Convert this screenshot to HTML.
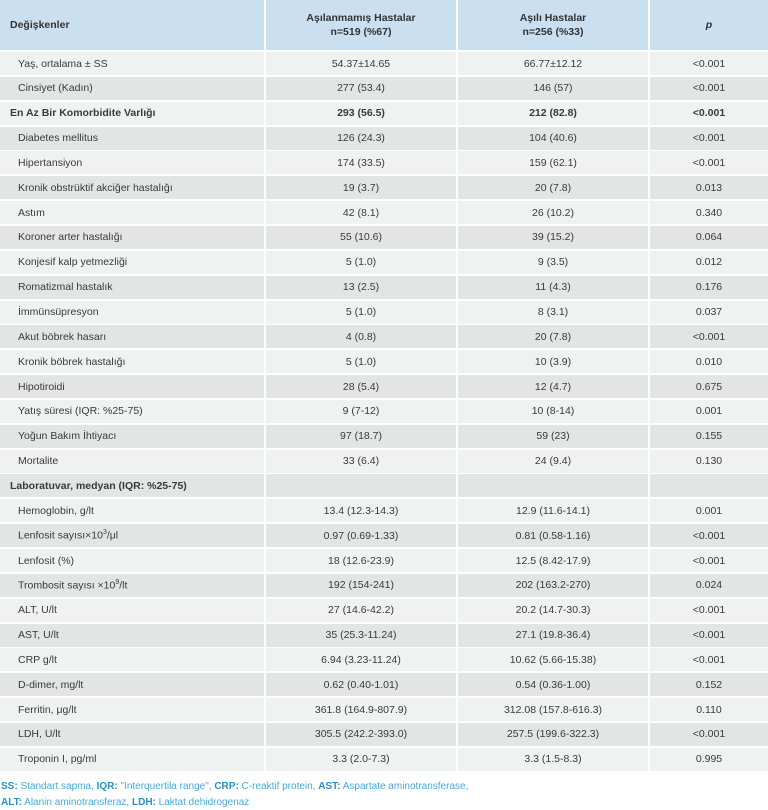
<!DOCTYPE html>
<html><head><meta charset="utf-8"><style>
body{margin:0;width:768px;height:810px;background:#fff;font-family:"Liberation Sans",sans-serif;color:#3a3a3a;position:relative;overflow:hidden}
.c{position:absolute;font-size:10.5px;display:flex;align-items:center;justify-content:center;box-sizing:border-box}
.l{justify-content:flex-start;padding-left:18px}
.b{font-weight:bold}
.b.l{padding-left:10px}
.h{background:#cadff0;font-weight:bold;text-align:center;font-size:10.5px;line-height:14px;color:#333}
.foot{position:absolute;left:1px;font-size:10px;color:#4aa8d8}
.foot b{color:#2a8fc8}
</style></head><body>
<div id="t"></div>
<div class="foot" style="top:781px"><b>SS:</b> Standart sapma, <b>IQR:</b> "Interquertila range", <b>CRP:</b> C-reaktif protein, <b>AST:</b> Aspartate aminotransferase,</div>
<div class="foot" style="top:797px"><b>ALT:</b> Alanin aminotransferaz, <b>LDH:</b> Laktat dehidrogenaz</div>
<script>
var cols=[[0,264],[266,456],[458,648],[650,768]];
var H=["Değişkenler","Aşılanmamış Hastalar<br>n=519 (%67)","Aşılı Hastalar<br>n=256 (%33)","<i>p</i>"];
var rows=[
["Yaş, ortalama ± SS","54.37±14.65","66.77±12.12","<0.001"],
["Cinsiyet (Kadın)","277 (53.4)","146 (57)","<0.001"],
["*En Az Bir Komorbidite Varlığı","293 (56.5)","212 (82.8)","<0.001"],
["Diabetes mellitus","126 (24.3)","104 (40.6)","<0.001"],
["Hipertansiyon","174 (33.5)","159 (62.1)","<0.001"],
["Kronik obstrüktif akciğer hastalığı","19 (3.7)","20 (7.8)","0.013"],
["Astım","42 (8.1)","26 (10.2)","0.340"],
["Koroner arter hastalığı","55 (10.6)","39 (15.2)","0.064"],
["Konjesif kalp yetmezliği","5 (1.0)","9 (3.5)","0.012"],
["Romatizmal hastalık","13 (2.5)","11 (4.3)","0.176"],
["İmmünsüpresyon","5 (1.0)","8 (3.1)","0.037"],
["Akut böbrek hasarı","4 (0.8)","20 (7.8)","<0.001"],
["Kronik böbrek hastalığı","5 (1.0)","10 (3.9)","0.010"],
["Hipotiroidi","28 (5.4)","12 (4.7)","0.675"],
["Yatış süresi (IQR: %25-75)","9 (7-12)","10 (8-14)","0.001"],
["Yoğun Bakım İhtiyacı","97 (18.7)","59 (23)","0.155"],
["Mortalite","33 (6.4)","24 (9.4)","0.130"],
["*Laboratuvar, medyan (IQR: %25-75)","","",""],
["Hemoglobin, g/lt","13.4 (12.3-14.3)","12.9 (11.6-14.1)","0.001"],
["Lenfosit sayısı×10<sup style='font-size:7px'>3</sup>/μl","0.97 (0.69-1.33)","0.81 (0.58-1.16)","<0.001"],
["Lenfosit (%)","18 (12.6-23.9)","12.5 (8.42-17.9)","<0.001"],
["Trombosit sayısı ×10<sup style='font-size:7px'>9</sup>/lt","192 (154-241)","202 (163.2-270)","0.024"],
["ALT, U/lt","27 (14.6-42.2)","20.2 (14.7-30.3)","<0.001"],
["AST, U/lt","35 (25.3-11.24)","27.1 (19.8-36.4)","<0.001"],
["CRP g/lt","6.94 (3.23-11.24)","10.62 (5.66-15.38)","<0.001"],
["D-dimer, mg/lt","0.62 (0.40-1.01)","0.54 (0.36-1.00)","0.152"],
["Ferritin, μg/lt","361.8 (164.9-807.9)","312.08 (157.8-616.3)","0.110"],
["LDH, U/lt","305.5 (242.2-393.0)","257.5 (199.6-322.3)","<0.001"],
["Troponin I, pg/ml","3.3 (2.0-7.3)","3.3 (1.5-8.3)","0.995"]];
var s="";
function esc(x){return x.replace(/<0/g,"&lt;0");}
for(var j=0;j<4;j++){s+='<div class="c h'+(j==0?' l':'')+'" style="left:'+cols[j][0]+'px;width:'+(cols[j][1]-cols[j][0])+'px;top:0px;height:50px;'+(j==0?'padding-left:10px':'')+'"><span>'+H[j]+'</span></div>';}
for(var i=0;i<rows.length;i++){
 var yy=52+i*24.85, bg=(i%2)?'#e3e4e4':'#f0f1f1';
 var r=rows[i], bold=r[0].charAt(0)=='*'; var lab=bold?r[0].slice(1):r[0];
 for(var j=0;j<4;j++){
  var txt=j==0?lab:esc(r[j]);
  s+='<div class="c'+(j==0?' l':'')+(bold?' b':'')+'" style="left:'+cols[j][0]+'px;width:'+(cols[j][1]-cols[j][0])+'px;top:'+yy.toFixed(2)+'px;height:23px;background:'+bg+'"><span>'+txt+'</span></div>';
 }
}
document.getElementById('t').innerHTML=s;
</script>
</body></html>
